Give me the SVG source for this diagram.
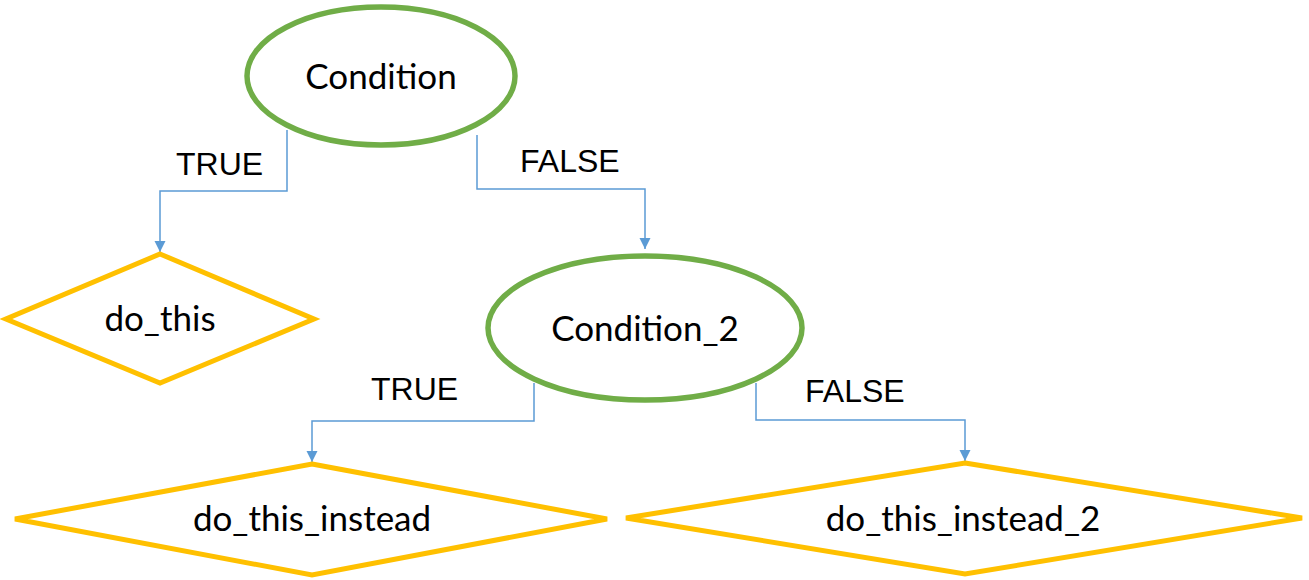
<svg xmlns="http://www.w3.org/2000/svg" width="1309" height="580" viewBox="0 0 1309 580">
<defs>
<style>
.cond{fill:#fff;stroke:#70AD47;stroke-width:5.5}
.act{fill:#fff;stroke:#FFC000;stroke-width:5}
.lbl{font-family:Lato,"Liberation Sans",sans-serif;font-size:35px;fill:#000;text-anchor:middle}
.edge{font-family:"Liberation Sans",Arial,sans-serif;font-size:32px;fill:#000}
.conn{fill:none;stroke:#5B9BD5;stroke-width:1.5}
</style>
<marker id="arr" viewBox="0 0 10 10" refX="10" refY="5" markerWidth="7.5" markerHeight="7.5" markerUnits="strokeWidth" orient="auto">
<path d="M0,0 L10,5 L0,10 z" fill="#5B9BD5"/>
</marker>
</defs>
<g id="connectors">
<polyline class="conn" points="287,130 287,191 160,191 160,252" marker-end="url(#arr)"/>
<polyline class="conn" points="477,135 477,189 645,189 645,249" marker-end="url(#arr)"/>
<polyline class="conn" points="534,383 534,421 312,421 312,462" marker-end="url(#arr)"/>
<polyline class="conn" points="756,383 756,420 965,420 965,461" marker-end="url(#arr)"/>
<text class="edge" x="176" y="175">TRUE</text>
<text class="edge" x="520" y="172">FALSE</text>
<text class="edge" x="371" y="400">TRUE</text>
<text class="edge" x="805" y="402">FALSE</text>
</g>
<g id="condition">
<ellipse class="cond" cx="381" cy="76" rx="134" ry="69"/>
<text class="lbl" x="381" y="89">Condition</text>
</g>
<g id="do_this">
<polygon class="act" points="160,254 314,319 160,383 6,319"/>
<text class="lbl" x="160" y="331">do_this</text>
</g>
<g id="condition_2">
<ellipse class="cond" cx="645" cy="328" rx="157" ry="72"/>
<text class="lbl" x="645" y="341">Condition_2</text>
</g>
<g id="do_this_instead">
<polygon class="act" points="312,464 607,519 312,575 15,519"/>
<text class="lbl" x="312" y="531">do_this_instead</text>
</g>
<g id="do_this_instead_2">
<polygon class="act" points="965,463 1302,518 965,574 626,518"/>
<text class="lbl" x="963" y="531">do_this_instead_2</text>
</g>
</svg>
